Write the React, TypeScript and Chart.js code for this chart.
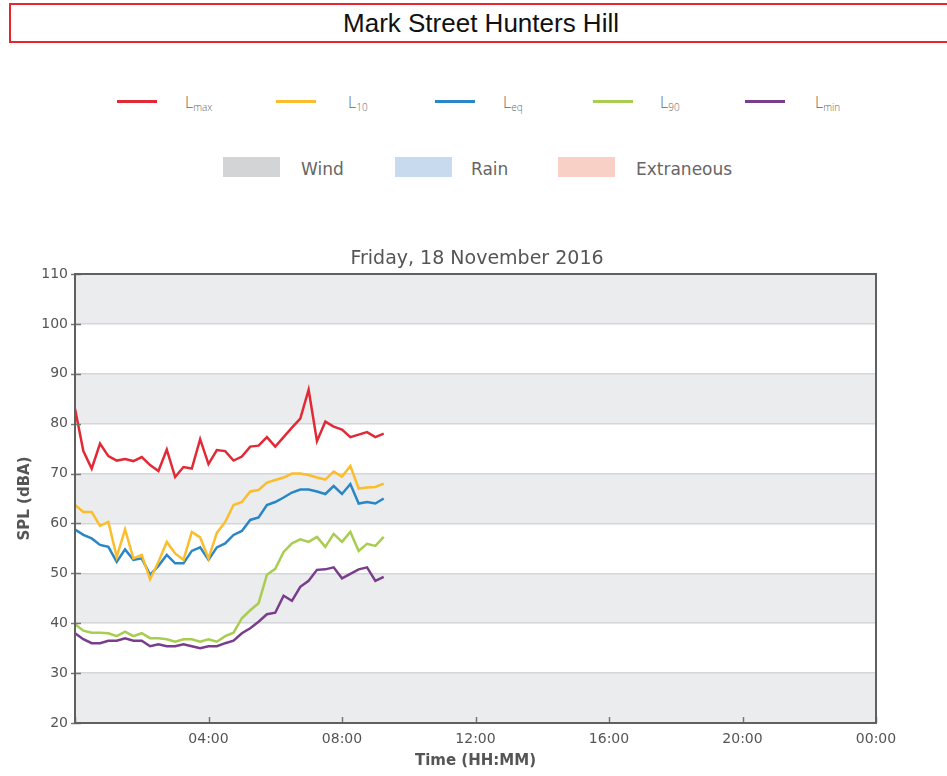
import React, { useEffect, useRef } from 'react';
import { Chart, registerables } from 'chart.js';

Chart.register(...registerables);

// ---- data ----
const TIMES = [
  '00:00', '00:15', '00:30', '00:45', '01:00', '01:15', '01:30', '01:45',
  '02:00', '02:15', '02:30', '02:45', '03:00', '03:15', '03:30', '03:45',
  '04:00', '04:15', '04:30', '04:45', '05:00', '05:15', '05:30', '05:45',
  '06:00', '06:15', '06:30', '06:45', '07:00', '07:15', '07:30', '07:45',
  '08:00', '08:15', '08:30', '08:45', '09:00', '09:15',
];

const LMAX = [
  83, 74.5, 71, 76, 73.5, 72.6, 72.9, 72.5, 73.3, 71.7, 70.5, 74.8, 69.3, 71.3, 71, 76.9, 71.9, 74.7, 74.5,
  72.6, 73.4, 75.4, 75.6, 77.3, 75.4, 77.3, 79.2, 81, 86.8, 76.5, 80.4, 79.4, 78.8, 77.3, 77.8, 78.3, 77.3, 78,
];
const L10 = [
  63.7, 62.3, 62.3, 59.5, 60.3, 53.3, 58.8, 53.0, 53.7, 48.8, 52.3, 56.3, 54.0, 52.7, 58.3, 57.2, 53.0, 58.1, 60.3,
  63.7, 64.3, 66.4, 66.7, 68.2, 68.7, 69.2, 70.0, 70.0, 69.7, 69.2, 68.8, 70.4, 69.4, 71.5, 67.0, 67.2, 67.3, 68.0,
];
const LEQ = [
  58.8, 57.7, 57.0, 55.7, 55.3, 52.3, 54.8, 52.7, 53.0, 49.7, 51.5, 53.7, 52.0, 52.0, 54.5, 55.2, 52.7, 55.2, 56.0,
  57.7, 58.5, 60.7, 61.2, 63.7, 64.3, 65.2, 66.2, 66.8, 66.8, 66.4, 65.9, 67.5, 65.9, 67.9, 64.0, 64.3, 64.0, 65.0,
];
const L90 = [
  39.8, 38.5, 38.1, 38.1, 38.0, 37.4, 38.3, 37.4, 38.0, 37.0, 37.0, 36.8, 36.3, 36.8, 36.8, 36.3, 36.8, 36.3, 37.4,
  38.1, 41.0, 42.6, 44.0, 49.7, 50.9, 54.3, 56.0, 56.8, 56.3, 57.3, 55.3, 57.9, 56.3, 58.3, 54.5, 55.9, 55.5, 57.3,
];
const LMIN = [
  38.0, 36.8, 36.0, 36.0, 36.5, 36.5, 37.0, 36.5, 36.5, 35.4, 35.8, 35.4, 35.4, 35.8, 35.4, 35.0, 35.4, 35.4, 36.0,
  36.5, 38.0, 39.0, 40.3, 41.8, 42.1, 45.5, 44.5, 47.3, 48.5, 50.7, 50.8, 51.2, 49.0, 49.9, 50.8, 51.2, 48.5, 49.3,
];

const Y_TICKS = [20, 30, 40, 50, 60, 70, 80, 90, 100, 110];
const X_TICK_HOURS = [0, 4, 8, 12, 16, 20, 24];
const X_TICK_LABELS = ['', '04:00', '08:00', '12:00', '16:00', '20:00', '00:00'];

const CHART_TITLE = 'Friday, 18 November 2016';
const PAGE_TITLE = 'Mark Street Hunters Hill';

const toHours = (t: string) => {
  const [h, m] = t.split(':').map(Number);
  return h + m / 60;
};
const pts = (vals: number[]) => vals.map((v, i) => ({ x: toHours(TIMES[i]), y: v }));

const SERIES = [
  { label: 'Lmax', data: LMAX, color: '#e22a36' },
  { label: 'L10', data: L10, color: '#fbbd2b' },
  { label: 'Leq', data: LEQ, color: '#2a86c6' },
  { label: 'L90', data: L90, color: '#a8cd50' },
  { label: 'Lmin', data: LMIN, color: '#7a3d8c' },
];

const bandsPlugin = {
  id: 'bands',
  beforeDraw(chart: any) {
    const { ctx, chartArea: a, scales } = chart;
    const y = scales.y;
    ctx.save();
    for (let i = 0; i < Y_TICKS.length - 1; i++) {
      const top = y.getPixelForValue(Y_TICKS[i + 1]);
      const bot = y.getPixelForValue(Y_TICKS[i]);
      ctx.fillStyle = i % 2 === 0 ? '#ebecee' : '#ffffff';
      ctx.fillRect(a.left, top, a.right - a.left, bot - top);
    }
    ctx.restore();
  },
  afterDraw(chart: any) {
    const { ctx, chartArea: a, scales } = chart;
    ctx.save();
    ctx.strokeStyle = '#777';
    ctx.lineWidth = 1.5;
    ctx.beginPath();
    for (const v of Y_TICKS) {
      const py = Math.round(scales.y.getPixelForValue(v)) + 0.5;
      ctx.moveTo(a.left - 4, py);
      ctx.lineTo(a.left + 6, py);
    }
    for (const h of X_TICK_HOURS) {
      const px = Math.round(scales.x.getPixelForValue(h)) + 0.5;
      ctx.moveTo(px, a.bottom);
      ctx.lineTo(px, a.bottom - 6);
    }
    ctx.stroke();
    ctx.strokeStyle = '#606060';
    ctx.lineWidth = 2;
    ctx.strokeRect(a.left, a.top, a.right - a.left, a.bottom - a.top);
    ctx.restore();
  },
};

function NoiseChart() {
  const ref = useRef<HTMLCanvasElement | null>(null);
  useEffect(() => {
    if (!ref.current) return;
    const chart = new Chart(ref.current, {
      type: 'line',
      data: {
        datasets: SERIES.map((s) => ({
          label: s.label,
          data: pts(s.data),
          borderColor: s.color,
          backgroundColor: s.color,
          borderWidth: 2.5,
          pointRadius: 0,
          tension: 0,
          fill: false,
        })),
      },
      options: {
        animation: false,
        responsive: false,
        maintainAspectRatio: false,
        layout: { padding: { left: 7, right: 0, top: 0, bottom: 0 } },
        plugins: {
          legend: { display: false },
          tooltip: { enabled: false },
          title: {
            display: true,
            text: CHART_TITLE,
            color: '#555',
            font: { family: 'DejaVu Sans', size: 19, weight: 'normal' },
            padding: { top: 18, bottom: 3.2 },
          },
        },
        scales: {
          x: {
            type: 'linear',
            min: 0,
            max: 24,
            afterBuildTicks: (scale: any) => {
              scale.ticks = X_TICK_HOURS.map((v) => ({ value: v }));
            },
            afterFit: (scale: any) => {
              scale.height = 53;
            },
            grid: { display: false, drawTicks: false },
            border: { display: false },
            ticks: {
              padding: 8,
              color: '#555',
              font: { family: 'DejaVu Sans', size: 14 },
              maxRotation: 0,
              autoSkip: false,
              callback: (_v: any, i: number) => X_TICK_LABELS[i],
            },
            title: {
              display: true,
              text: 'Time (HH:MM)',
              color: '#555',
              font: { family: 'DejaVu Sans', size: 15, weight: 'bold' },
              padding: { top: 0, bottom: 6 },
            },
          },
          y: {
            min: 20,
            max: 110,
            afterBuildTicks: (scale: any) => {
              scale.ticks = Y_TICKS.map((v) => ({ value: v }));
            },
            afterFit: (scale: any) => {
              scale.width = 68;
            },
            grid: { color: '#d5d6d9', lineWidth: 1.5, drawTicks: false },
            border: { display: false },
            ticks: {
              padding: 7,
              color: '#555',
              font: { family: 'DejaVu Sans', size: 14 },
              autoSkip: false,
            },
            title: {
              display: true,
              text: 'SPL (dBA)',
              color: '#555',
              font: { family: 'DejaVu Sans', size: 15, weight: 'bold' },
              padding: { top: 9, bottom: 0 },
            },
          },
          yRight: {
            position: 'right',
            min: 20,
            max: 110,
            afterFit: (scale: any) => {
              scale.width = 71;
            },
            grid: { display: false, drawTicks: false },
            border: { display: false },
            ticks: { display: false },
          },
        },
      },
      plugins: [bandsPlugin],
    } as any);
    return () => chart.destroy();
  }, []);
  return (
    <canvas
      ref={ref}
      width={947}
      height={546}
      style={{ position: 'absolute', left: 0, top: 230, width: 947, height: 546, display: 'block' }}
    />
  );
}

const LINE_LEGEND = [
  { base: 'L', sub: 'max', color: '#e22a36', lineX: 117, textX: 185 },
  { base: 'L', sub: '10', color: '#fbbd2b', lineX: 276, textX: 348 },
  { base: 'L', sub: 'eq', color: '#2a86c6', lineX: 435, textX: 503 },
  { base: 'L', sub: '90', color: '#a8cd50', lineX: 593, textX: 660 },
  { base: 'L', sub: 'min', color: '#7a3d8c', lineX: 745, textX: 815 },
];
const BOX_LEGEND = [
  { label: 'Wind', color: '#d3d4d6', boxX: 223, textX: 301 },
  { label: 'Rain', color: '#c8daee', boxX: 395, textX: 471 },
  { label: 'Extraneous', color: '#f8d0c6', boxX: 558, textX: 636 },
];

export default function App() {
  return (
    <div
      style={{
        position: 'absolute',
        left: 0,
        top: 0,
        width: 947,
        height: 776,
        overflow: 'hidden',
        background: '#fff',
      }}
    >
      <div
        style={{
          position: 'absolute',
          left: 9,
          top: 3,
          width: 950,
          height: 40,
          boxSizing: 'border-box',
          border: '2px solid #e8262d',
          textAlign: 'center',
          lineHeight: '36px',
          fontFamily: '"Liberation Sans", Arial, sans-serif',
          fontSize: 26,
          color: '#111',
        }}
      >
        <span style={{ position: 'relative', left: -3 }}>{PAGE_TITLE}</span>
      </div>
      {LINE_LEGEND.map((l) => (
        <React.Fragment key={l.sub}>
          <div
            style={{
              position: 'absolute',
              left: l.lineX,
              top: 100,
              width: 40,
              height: 3,
              background: l.color,
            }}
          />
          <div
            style={{
              position: 'absolute',
              left: l.textX,
              top: 93,
              lineHeight: '18px',
              fontFamily: '"Open Sans", "DejaVu Sans", sans-serif',
              fontWeight: 300,
              fontSize: 16,
              color: '#666',
              whiteSpace: 'nowrap',
            }}
          >
            {l.base}
            <sub style={{ fontSize: 10, verticalAlign: -3 }}>{l.sub}</sub>
          </div>
        </React.Fragment>
      ))}
      {BOX_LEGEND.map((b) => (
        <React.Fragment key={b.label}>
          <div
            style={{
              position: 'absolute',
              left: b.boxX,
              top: 157,
              width: 57,
              height: 20,
              background: b.color,
            }}
          />
          <div
            style={{
              position: 'absolute',
              left: b.textX,
              top: 159,
              lineHeight: '20px',
              fontFamily: '"DejaVu Sans", sans-serif',
              fontSize: 17,
              color: '#666',
              whiteSpace: 'nowrap',
            }}
          >
            {b.label}
          </div>
        </React.Fragment>
      ))}
      <NoiseChart />
    </div>
  );
}
